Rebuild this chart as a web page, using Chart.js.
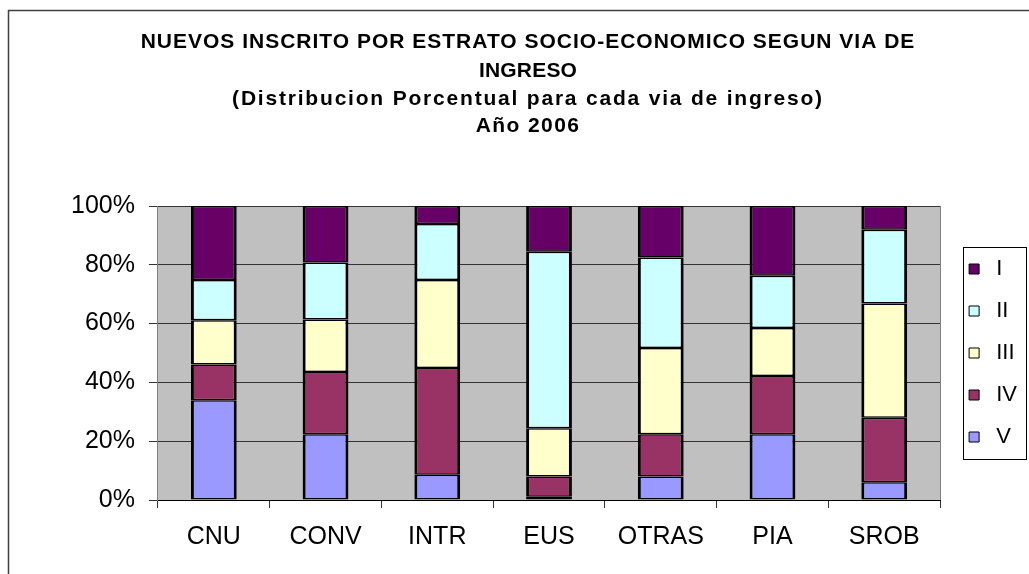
<!DOCTYPE html>
<html>
<head>
<meta charset="utf-8">
<script src="https://cdn.jsdelivr.net/npm/chart.js@4/dist/chart.umd.min.js"></script>
<style>
  html, body { margin: 0; padding: 0; background: #fff; }
  #wrap { width: 1029px; height: 574px; position: relative; }
</style>
</head>
<body>
<div id="wrap"><canvas id="chart"></canvas></div>
<script>
// percentages per via de ingreso
const categories = ['CNU', 'CONV', 'INTR', 'EUS', 'OTRAS', 'PIA', 'SROB'];
const estratoI   = [25.2, 19.2, 6.1, 15.6, 17.5, 23.7, 8.1];
const estratoII  = [13.7, 19.4, 19.1, 60.0, 30.8, 17.8, 25.1];
const estratoIII = [15.0, 17.9, 29.9, 16.4, 29.3, 16.3, 38.8];
const estratoIV  = [12.2, 21.1, 36.3, 6.9, 14.4, 19.8, 22.0];
const estratoV   = [33.9, 22.4, 8.6, 1.1, 8.0, 22.4, 6.0];
const seriesNames = ['I', 'II', 'III', 'IV', 'V'];
const titleLines = [
    'NUEVOS INSCRITO POR ESTRATO SOCIO-ECONOMICO SEGUN VIA DE',
    'INGRESO',
    '(Distribucion Porcentual para cada via de ingreso)',
    'Año 2006'
];

const FONT = '"Liberation Sans", Arial, sans-serif';

// stacked bottom-up: V first, I on top
const series = [
    { label: seriesNames[4], data: estratoV,   color: '#9999FF' },
    { label: seriesNames[3], data: estratoIV,  color: '#993366' },
    { label: seriesNames[2], data: estratoIII, color: '#FFFFCC' },
    { label: seriesNames[1], data: estratoII,  color: '#CCFFFF' },
    { label: seriesNames[0], data: estratoI,   color: '#660066' }
];

const decor = {
    id: 'decor',
    beforeDraw(chart) {
        const {ctx, chartArea: a} = chart;
        ctx.save();
        ctx.fillStyle = '#fff';
        ctx.fillRect(0, 0, chart.width, chart.height);
        ctx.strokeStyle = '#404040';
        ctx.lineWidth = 1.5;
        ctx.strokeRect(8.5, 10.5, 1200, 800);
        ctx.fillStyle = '#C0C0C0';
        ctx.fillRect(a.left, a.top, a.right - a.left, a.bottom - a.top);
        ctx.restore();
    },
    beforeDatasetsDraw(chart) {
        const {ctx, chartArea: a} = chart;
        ctx.save();
        ctx.strokeStyle = '#808080';
        ctx.lineWidth = 1;
        ctx.beginPath();
        ctx.moveTo(Math.round(a.right) + 0.5, a.top);
        ctx.lineTo(Math.round(a.right) + 0.5, a.bottom);
        ctx.stroke();
        ctx.restore();
    },
    afterDraw(chart) {
        const {ctx} = chart;
        ctx.save();
        // legend frame
        const hb = chart.legend.legendHitBoxes;
        if (hb && hb.length) {
            const first = hb[0], last = hb[hb.length - 1];
            const x0 = Math.round(first.left - 6) + 0.5;
            const y0 = Math.round(first.top - 11) + 0.5;
            const y1 = Math.round(last.top + last.height + 11) + 0.5;
            ctx.strokeStyle = '#000';
            ctx.lineWidth = 1;
            ctx.strokeRect(x0, y0, chart.width - 2.5 - x0, y1 - y0);
        }
        // title
        const spacing = [1.0, 0.2, 1.8, 1.4];
        const ys = [42, 71, 99, 126];
        ctx.fillStyle = '#000';
        ctx.font = 'bold 21px ' + FONT;
        ctx.textAlign = 'center';
        ctx.textBaseline = 'middle';
        titleLines.forEach((t, i) => {
            ctx.letterSpacing = spacing[i] + 'px';
            ctx.fillText(t, 528, ys[i]);
        });
        ctx.restore();
    }
};

const ctx = document.getElementById('chart').getContext('2d');
const chart = new Chart(ctx, {
    type: 'bar',
    data: {
        labels: categories,
        datasets: series.map(s => ({
            label: s.label,
            data: s.data,
            backgroundColor: s.color,
            borderColor: '#000',
            borderWidth: { top: 1.5, bottom: 1.5, left: 3, right: 3 },
            borderSkipped: false,
            inflateAmount: 0,
            categoryPercentage: 1,
            barPercentage: 0.41
        }))
    },
    options: {
        responsive: true,
        maintainAspectRatio: false,
        animation: false,
        layout: { padding: { left: 57, top: 206, right: 2, bottom: 8 } },
        plugins: {
            title: { display: false },
            tooltip: { enabled: false },
            legend: {
                position: 'right',
                fullSize: false,
                reverse: true,
                labels: {
                    color: '#000',
                    font: { family: FONT, size: 22 },
                    boxWidth: 10,
                    boxHeight: 10,
                    padding: 20,
                    generateLabels: (c) => Chart.defaults.plugins.legend.labels.generateLabels(c)
                        .map(l => Object.assign(l, { text: ' ' + l.text, lineWidth: 1 }))
                }
            }
        },
        scales: {
            x: {
                stacked: true,
                grid: { offset: true, drawOnChartArea: false, tickLength: 8, color: '#333' },
                border: { color: '#000', width: 1 },
                ticks: { color: '#000', font: { family: FONT, size: 25 }, padding: 14 }
            },
            y: {
                stacked: true,
                min: 0,
                max: 100,
                grid: { color: '#333', tickLength: 9 },
                border: { color: '#808080', width: 1 },
                ticks: {
                    stepSize: 20,
                    color: '#000',
                    padding: 14,
                    font: { family: FONT, size: 25 },
                    callback: v => v + '%'
                }
            },
            // empty spacer between plot and legend
            gap: {
                type: 'linear',
                position: 'right',
                grid: { display: false },
                ticks: { display: false },
                border: { display: false },
                afterFit: (s) => { s.width = 9; }
            }
        }
    },
    plugins: [decor]
});
</script>
</body>
</html>
